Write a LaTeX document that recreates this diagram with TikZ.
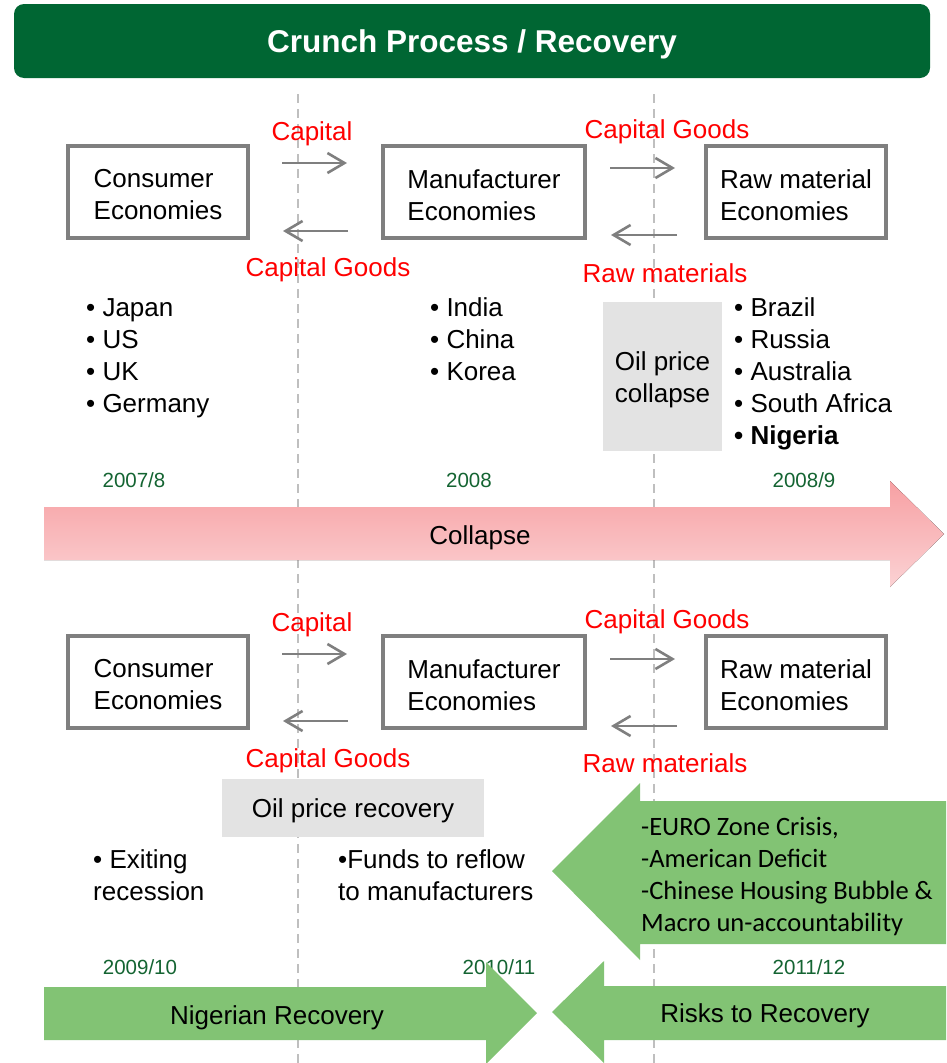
\documentclass[tikz,border=0pt]{standalone}
\usepackage{fontspec}
\setmainfont{Liberation Sans}
\newfontfamily\calibfont{Carlito}
\usetikzlibrary{arrows.meta}
\definecolor{headgreen}{RGB}{0,102,51}
\definecolor{dategreen}{RGB}{20,100,50}
\definecolor{boxgray}{RGB}{127,127,127}
\definecolor{dashgray}{RGB}{191,191,191}
\definecolor{oilgray}{RGB}{227,227,227}
\definecolor{leafgreen}{RGB}{130,195,116}
\definecolor{pinktop}{RGB}{247,160,163}
\definecolor{pinkbot}{RGB}{251,210,212}

\begin{document}
\begin{tikzpicture}[x=1pt, y=-1pt,
    inside/.style={label={[align=left, inner sep=0pt, yshift=-3pt, font=\fontsize{26}{32}\selectfont]center:{#1}}},
    economy/.style={draw=boxgray, line width=4pt, fill=white, minimum height=92pt, outer sep=0pt, inner sep=0pt, inside={#1}},
    flow/.style={draw=boxgray, line width=2.6pt, -{Straight Barb[length=17pt,width=20pt]}},
    flowlabel/.style={text=red, inner sep=0pt, font=\fontsize{26}{32}\selectfont},
    bullets/.style={align=left, anchor=west, inner sep=0pt, font=\fontsize{26}{32}\selectfont},
    oilbox/.style={fill=oilgray, align=center, inner sep=0pt, font=\fontsize{26}{32}\selectfont},
    period/.style={text=dategreen, inner sep=0pt, font=\fontsize{20.5}{24}\selectfont},
    timeline/.style={dashgray, line width=1.3pt, dash pattern=on 9pt off 6pt}]
    \useasboundingbox (0,0) rectangle (946,1063);

    \node[fill=headgreen, rounded corners=10pt, minimum width=916pt, minimum height=74pt, text height=23pt, text depth=0pt, text=white, font=\bfseries\fontsize{31.5}{36}\selectfont] (title) at (472,41) {Crunch Process / Recovery};

    %\draw[red] (0,0) grid (946,1063);
    \draw[timeline] (298,94) -- (298,1063);
    \draw[timeline] (654,94) -- (654,1063);

    % crunch
    \node[economy={Consumer\\Economies}, minimum width=180pt] (cons1) at (158,192) {};
    \node[economy={Manufacturer\\Economies}, minimum width=202pt] (manu1) at (484,192) {};
    \node[economy={Raw material\\Economies}, minimum width=180pt] (raw1) at (796,192) {};

    \path
    ([yshift=29pt]cons1.east) edge[flow, shorten <=34pt, shorten >=36pt] ([yshift=29pt]manu1.west)
    ([yshift=-39pt]manu1.west) edge[flow, shorten <=35pt, shorten >=35pt] ([yshift=-39pt]cons1.east)
    ([yshift=24pt]manu1.east) edge[flow, shorten <=25pt, shorten >=31pt] ([yshift=24pt]raw1.west)
    ([yshift=-43pt]raw1.west) edge[flow, shorten <=29pt, shorten >=26pt] ([yshift=-43pt]manu1.east);

    \node[flowlabel] (cap1) at (312,134) {Capital};
    \node[flowlabel] (goods1) at (328,270) {Capital Goods};
    \node[flowlabel] (goodsr1) at (667,132) {Capital Goods};
    \node[flowlabel] (rawm1) at (665,273) {Raw materials};

    \node[bullets] (conslist) at (86,358) {• Japan\\• US\\• UK\\• Germany};
    \node[bullets] (manulist) at (430,339) {• India\\• China\\• Korea};
    \node[bullets] (rawlist) at (734,374) {• Brazil\\• Russia\\• Australia\\• South Africa\\\textbf{• Nigeria}};
    \node[oilbox, inside={\hfil Oil price\hfil\\\hfil collapse\hfil}, minimum width=119pt, minimum height=149pt] (oil1) at (662.5,376.5) {};

    \node[period] (p1) at (134,480) {2007/8};
    \node[period] (p2) at (469,480) {2008};
    \node[period] (p3) at (804,480) {2008/9};

    \fill[top color=pinktop, bottom color=pinkbot] (44,507) -- (890,507) -- (890,481) -- (944,534) -- (890,587) -- (890,560) -- (44,560) -- cycle;
    \node[font=\fontsize{26}{32}\selectfont] (collapse) at (480,538) {Collapse};

    % recovery
    \node[economy={Consumer\\Economies}, minimum width=180pt] (cons2) at (158,682) {};
    \node[economy={Manufacturer\\Economies}, minimum width=202pt] (manu2) at (484,682) {};
    \node[economy={Raw material\\Economies}, minimum width=180pt] (raw2) at (796,682) {};

    \path
    ([yshift=28pt]cons2.east) edge[flow, shorten <=34pt, shorten >=36pt] ([yshift=28pt]manu2.west)
    ([yshift=-39pt]manu2.west) edge[flow, shorten <=35pt, shorten >=35pt] ([yshift=-39pt]cons2.east)
    ([yshift=23pt]manu2.east) edge[flow, shorten <=25pt, shorten >=31pt] ([yshift=23pt]raw2.west)
    ([yshift=-44pt]raw2.west) edge[flow, shorten <=29pt, shorten >=26pt] ([yshift=-44pt]manu2.east);

    \node[flowlabel] (cap2) at (312,625) {Capital};
    \node[flowlabel] (goods2) at (328,761) {Capital Goods};
    \node[flowlabel] (goodsr2) at (667,622) {Capital Goods};
    \node[flowlabel] (rawm2) at (665,763) {Raw materials};

    \node[oilbox, text height=19pt, text depth=0pt, minimum width=262pt, minimum height=58pt] (oil2) at (353,808) {Oil price recovery};
    \node[bullets] (exiting) at (93,875) {• Exiting\\recession};
    \node[bullets] (funds) at (338,875) {•Funds to reflow\\to manufacturers};

    \fill[leafgreen] (946,801) -- (640,801) -- (640,783) -- (552,871) -- (640,960) -- (640,944) -- (946,944) -- cycle;
    \node[bullets, font=\calibfont\fontsize{26.5}{32}\selectfont] (risks) at (641,877) {-EURO Zone Crisis,\\-American Deficit\\-Chinese Housing Bubble \&\\Macro un-accountability};

    \node[period] (p4) at (140,967) {2009/10};
    \node[period] (p5) at (499,967) {2010/11};
    \node[period] (p6) at (809,967) {2011/12};

    \fill[leafgreen] (44,987) -- (486,987) -- (486,962) -- (537,1013) -- (486,1064) -- (486,1040) -- (44,1040) -- cycle;
    \fill[leafgreen] (946,986) -- (604,986) -- (604,961) -- (552,1012) -- (604,1063) -- (604,1040) -- (946,1040) -- cycle;
    \node[font=\fontsize{26}{32}\selectfont] (nigeria) at (277,1018) {Nigerian Recovery};
    \node[font=\fontsize{26}{32}\selectfont] (riskrec) at (765,1016) {Risks to Recovery};
\end{tikzpicture}
\end{document}
